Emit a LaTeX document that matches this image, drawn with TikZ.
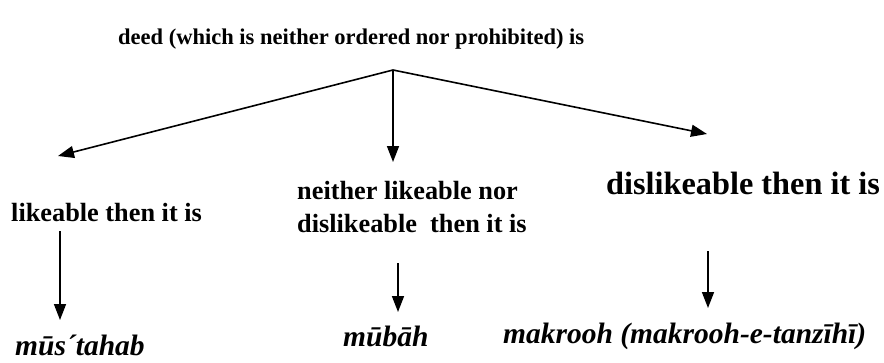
\documentclass[tikz,border=0pt]{standalone}
\usepackage{fontspec}
\setmainfont{Liberation Serif}
\usetikzlibrary{arrows.meta}

\begin{document}
\begin{tikzpicture}[x=1pt,y=-1pt,
		lbl/.style={inner sep=0pt,anchor=base west,font=\fontsize{26.3}{33}\selectfont\bfseries},
		term/.style={inner sep=0pt,anchor=base west,font=\fontsize{29.5}{35}\selectfont\bfseries\itshape},
		arr/.style={line width=1.6pt,-{Triangle[length=16pt,width=12pt]}}]
		\useasboundingbox (0,0) rectangle (884,362);
		
		\node[lbl,font=\fontsize{22.5}{27}\selectfont\bfseries] (deed) at (118,44) {deed (which is neither ordered nor prohibited) is};
		\coordinate (apex) at (393,70);
		
		\node[lbl] (like) at (11,221) {likeable then it is};
		\node[lbl,align=left] (neither) at (297,232) {neither likeable nor\\dislikeable\ \ then it is};
		\node[lbl,font=\fontsize{32.3}{38}\selectfont\bfseries] (dislike) at (606,194) {dislikeable then it is};
		
		\node[term] (mustahab) at (15,355) {mūs´tahab};
		\node[term] (mubah) at (343,346) {mūbāh};
		\node[term] (makrooh) at (503,343) {makrooh (makrooh-e-tanzīhī)};
		
		\coordinate (like-in) at (58,156);
		\coordinate (neither-in) at (393,162);
		\coordinate (dislike-in) at (707,134);
		\coordinate (like-out) at (60,231);
		\coordinate (mustahab-in) at (60,320);
		\coordinate (neither-out) at (398,263);
		\coordinate (mubah-in) at (398,312);
		\coordinate (dislike-out) at (708,251);
		\coordinate (makrooh-in) at (708,308);
		
		\draw[arr] (apex) -- (like-in);
		\draw[arr] (apex) -- (neither-in);
		\draw[arr] (apex) -- (dislike-in);
		
		\draw[arr] (like-out) -- (mustahab-in);
		\draw[arr] (neither-out) -- (mubah-in);
		\draw[arr] (dislike-out) -- (makrooh-in);
		
	\end{tikzpicture}
\end{document}
